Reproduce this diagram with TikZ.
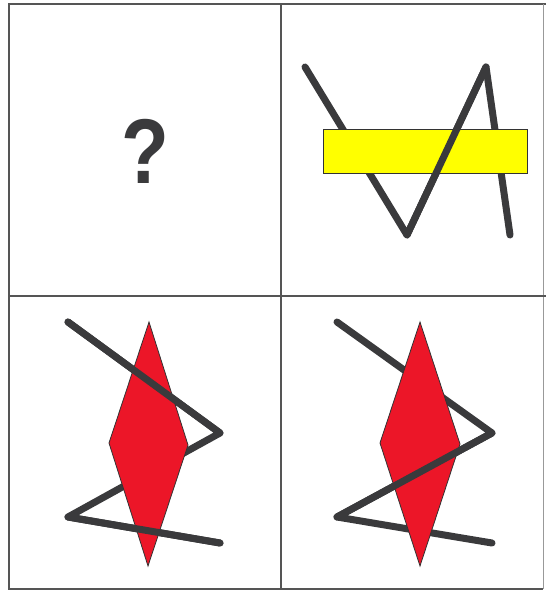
\documentclass[tikz,border=0pt]{standalone}
\usepackage{fontspec}
\setmainfont{Liberation Sans}
\definecolor{zig}{RGB}{58,58,60}
\definecolor{gridc}{RGB}{85,85,85}
\definecolor{ylw}{RGB}{255,255,0}
\definecolor{rd}{RGB}{236,22,40}
\begin{document}
\begin{tikzpicture}[x=1pt,y=-1pt,
  zigline/.style={draw=zig,line width=7pt,line cap=round,line join=round},
  gridline/.style={draw=gridc,line width=2pt},
  shapeout/.style={draw=black!80,line width=0.8pt}]
\useasboundingbox (0,0) rectangle (546,591);
% grid
\coordinate (tl) at (9,4);
\coordinate (tr) at (546,4);
\coordinate (bl) at (9,589);
\coordinate (br) at (543,589);
\draw[gridline] (tr) -- (tl) -- (bl) -- (br);
\draw[draw=gridc!60,line width=1pt] (543,4) -- (br);
\draw[gridline] (281,4) -- (281,589);
\draw[gridline] (9,296) -- (546,296);
% question mark
\node[text=zig,font=\bfseries\fontsize{92}{92}\selectfont,inner sep=0pt,xscale=0.85] (q) at (145,151) {?};
% top right
\coordinate (a1) at (305,67);
\coordinate (a2) at (407,235);
\coordinate (a3) at (486,67);
\coordinate (a4) at (510,235);
\draw[zigline] (a1) -- (a2) -- (a3) -- (a4);
\node[shapeout,fill=ylw,minimum width=204pt,minimum height=44pt,inner sep=0pt] (rect) at (425,151) {};
\draw[zigline] (a2) -- (a3);
% bottom left
\coordinate (b1) at (68,322);
\coordinate (b2) at (220,433);
\coordinate (b3) at (68,517);
\coordinate (b4) at (220,543);
\draw[zigline] (b1) -- (b2) -- (b3) -- (b4);
\draw[shapeout,fill=rd] (149,322) -- (188,445) -- (148,566) -- (109,443) -- cycle;
\draw[zigline] (b1) -- (b2);
\draw[zigline] (b3) -- (b4);
% bottom right
\coordinate (c1) at (337,322);
\coordinate (c2) at (492,433);
\coordinate (c3) at (337,517);
\coordinate (c4) at (492,543);
\draw[zigline] (c1) -- (c2) -- (c3) -- (c4);
\draw[shapeout,fill=rd] (420,322) -- (460,444) -- (420,566) -- (380,443) -- cycle;
\draw[zigline] (c2) -- (c3);
\end{tikzpicture}
\end{document}
